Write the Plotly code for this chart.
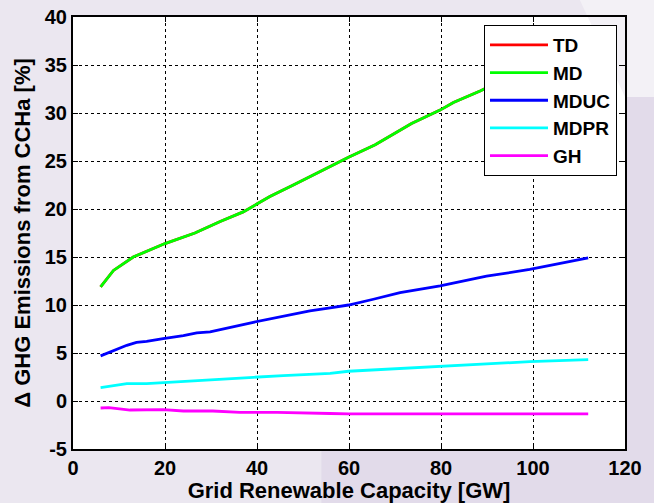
import plotly.graph_objects as go

# Data
md_x = [6, 8.8, 13.1, 20, 26.5, 32, 37, 42.8, 47.9, 54, 59.9, 65.7, 73.6, 79.8, 82.7, 88.5, 95, 103, 112]
md_y = [11.9, 13.6, 15.0, 16.4, 17.5, 18.7, 19.7, 21.3, 22.5, 24.0, 25.4, 26.7, 28.9, 30.3, 31.1, 32.3, 33.8, 35.5, 37.3]
td_x = md_x
td_y = md_y

mduc_x = [6, 11.7, 13.8, 16, 19.6, 24, 26.9, 29.8, 39.2, 45.7, 51.5, 55.9, 59.9, 65.3, 71.1, 79.8, 89.9, 99.3, 112]
mduc_y = [4.7, 5.8, 6.1, 6.2, 6.5, 6.8, 7.1, 7.2, 8.2, 8.8, 9.4, 9.7, 10.0, 10.6, 11.3, 12.0, 13.0, 13.7, 14.9]

mdpr_x = [6, 11.7, 16, 24, 31.2, 39.2, 45.7, 55.9, 59.9, 79.8, 99.3, 112]
mdpr_y = [1.4, 1.8, 1.8, 2.05, 2.26, 2.47, 2.64, 2.88, 3.1, 3.6, 4.1, 4.3]

gh_x = [6, 7.8, 12.4, 19.6, 24, 30.4, 36.3, 44.4, 55.9, 59.9, 80, 100, 112]
gh_y = [-0.73, -0.7, -0.94, -0.9, -1.04, -1.04, -1.18, -1.18, -1.3, -1.35, -1.35, -1.35, -1.35]

series_names = ["TD", "MD", "MDUC", "MDPR", "GH"]
series_x = [td_x, md_x, mduc_x, mdpr_x, gh_x]
series_y = [td_y, md_y, mduc_y, mdpr_y, gh_y]
series_colors = ["#FF0000", "#00FF00", "#0000FF", "#00FFFF", "#FF00FF"]

x_ticks = [0, 20, 40, 60, 80, 100, 120]
y_ticks = [-5, 0, 5, 10, 15, 20, 25, 30, 35, 40]
x_title = "Grid Renewable Capacity [GW]"
y_title = "Δ GHG Emissions from CCHa [%]"

fig = go.Figure()
for name, xs, ys, col in zip(series_names, series_x, series_y, series_colors):
    fig.add_trace(go.Scatter(x=xs, y=ys, mode="lines", name=f"<b>{name}</b>",
                             line=dict(color=col, width=2.8)))

font_family = "Liberation Sans, Arial, sans-serif"
axis_common = dict(
    showline=True, linecolor="black", linewidth=2, mirror="ticks",
    ticks="inside", ticklen=5, tickwidth=1, tickcolor="black",
    showgrid=True, gridcolor="black", griddash="dot", gridwidth=1,
    zeroline=False, automargin=False,
    tickfont=dict(family=font_family, size=20, color="black", weight="bold"),
)

fig.update_layout(
    width=654, height=503,
    margin=dict(l=73, r=29, t=17, b=54),
    paper_bgcolor="#EBE7F0",
    plot_bgcolor="white",
    showlegend=True,
    legend=dict(
        x=0.9855, y=0.9815, xanchor="right", yanchor="top",
        bgcolor="white", bordercolor="black", borderwidth=1,
        font=dict(family=font_family, size=19, color="black"),
        itemwidth=58,
    ),
    xaxis=dict(range=[0, 120], tickvals=x_ticks,
               ticktext=[f"<b>{v}</b>" for v in x_ticks],
               title=dict(text=f"<b>{x_title}</b>", standoff=2,
                          font=dict(family=font_family, size=22, color="black")),
               **axis_common),
    yaxis=dict(range=[-5, 40], tickvals=y_ticks,
               ticktext=[f"<b>{v}</b>" for v in y_ticks],
               title=dict(text=f"<b>{y_title}</b>", standoff=8,
                          font=dict(family=font_family, size=22, color="black")),
               **axis_common),
)

# background decoration (slide-like lavender shading)
fig.add_shape(type="path", xref="paper", yref="paper", layer="below",
              path="M 0.918 1.04 L 1.06 1.04 L 1.06 0.815 L 1.0 0.815 Z",
              fillcolor="#F3F1F6", line=dict(width=0))
fig.add_shape(type="path", xref="paper", yref="paper", layer="below",
              path="M 1.0 0.815 L 1.06 0.815 L 1.06 -0.14 L 0.45 -0.14 L 0.45 0 L 1.0 0 Z",
              fillcolor="#E2DBEA", line=dict(width=0))

fig.write_html("out.html")
